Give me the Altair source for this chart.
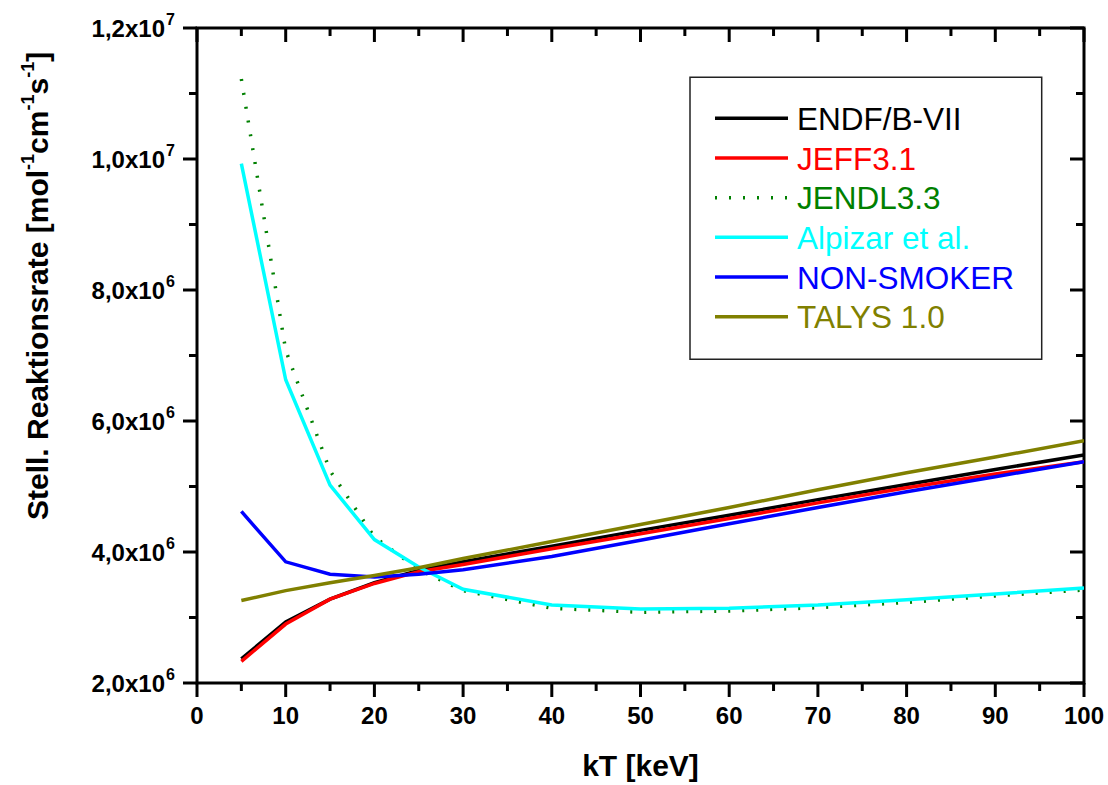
import altair as alt
import pandas as pd

# Stellar reaction rate vs. thermal energy kT
kT = [5, 10, 15, 20, 25, 30, 40, 50, 60, 70, 80, 90, 100]

endf = [2.37e6, 2.93e6, 3.28e6, 3.53e6, 3.72e6, 3.85e6, 4.09e6, 4.33e6, 4.56e6, 4.80e6, 5.03e6, 5.26e6, 5.48e6]
jeff = [2.33e6, 2.90e6, 3.28e6, 3.52e6, 3.70e6, 3.81e6, 4.05e6, 4.28e6, 4.51e6, 4.75e6, 4.98e6, 5.19e6, 5.38e6]
jendl = [11.22e6, 7.08e6, 5.24e6, 4.23e6, 3.73e6, 3.41e6, 3.14e6, 3.08e6, 3.10e6, 3.15e6, 3.23e6, 3.33e6, 3.42e6]
alpizar = [9.93e6, 6.63e6, 5.02e6, 4.19e6, 3.77e6, 3.43e6, 3.19e6, 3.13e6, 3.14e6, 3.19e6, 3.27e6, 3.36e6, 3.45e6]
nonsmoker = [4.62e6, 3.85e6, 3.66e6, 3.62e6, 3.66e6, 3.73e6, 3.93e6, 4.18e6, 4.43e6, 4.68e6, 4.92e6, 5.15e6, 5.38e6]
talys = [3.26e6, 3.41e6, 3.53e6, 3.64e6, 3.76e6, 3.90e6, 4.16e6, 4.42e6, 4.68e6, 4.95e6, 5.21e6, 5.45e6, 5.70e6]

series_names = ["ENDF/B-VII", "JEFF3.1", "JENDL3.3", "Alpizar et al.", "NON-SMOKER", "TALYS 1.0"]
series_values = [endf, jeff, jendl, alpizar, nonsmoker, talys]
series_colors = ["#000000", "#ff0000", "#008000", "#00ffff", "#0000ff", "#808000"]
series_dotted = [False, False, True, False, False, False]

x_major = list(range(0, 101, 10))
x_minor = list(range(5, 100, 10))
y_major = [2e6, 4e6, 6e6, 8e6, 1.0e7, 1.2e7]
y_minor = [3e6, 5e6, 7e6, 9e6, 1.1e7]
y_mant = ["2,0x10", "4,0x10", "6,0x10", "8,0x10", "1,0x10", "1,2x10"]
y_exp = ["6", "6", "6", "6", "7", "7"]

W, H = 887, 655
FONT = "Liberation Sans"
LW = 3
CURVE_W = 3.5

xs = alt.Scale(domain=[0, 100], nice=False, zero=False)
ys = alt.Scale(domain=[2e6, 1.2e7], nice=False, zero=False)

layers = []

# data curves, drawn in legend order
for name, vals, col, dotted in zip(series_names, series_values, series_colors, series_dotted):
    df = pd.DataFrame({"kT": kT, "rate": vals})
    kw = dict(color=col, strokeWidth=CURVE_W, clip=True)
    if dotted:
        kw["strokeDash"] = [2, 12]
    layers.append(
        alt.Chart(df).mark_line(**kw).encode(
            x=alt.X("kT:Q", scale=xs, axis=None),
            y=alt.Y("rate:Q", scale=ys, axis=None),
        )
    )

# tick marks: outward on bottom/left, inward on top/right
def xticks(vals, length):
    d = pd.DataFrame({"v": vals})
    bottom = alt.Chart(d).mark_rule(color="black", strokeWidth=LW).encode(
        x=alt.X("v:Q", scale=xs, axis=None), y=alt.value(H), y2=alt.value(H + length))
    top = alt.Chart(d).mark_rule(color="black", strokeWidth=LW).encode(
        x=alt.X("v:Q", scale=xs, axis=None), y=alt.value(0), y2=alt.value(length))
    return [bottom, top]

def yticks(vals, length):
    d = pd.DataFrame({"v": vals})
    left = alt.Chart(d).mark_rule(color="black", strokeWidth=LW).encode(
        y=alt.Y("v:Q", scale=ys, axis=None), x=alt.value(-length), x2=alt.value(0))
    right = alt.Chart(d).mark_rule(color="black", strokeWidth=LW).encode(
        y=alt.Y("v:Q", scale=ys, axis=None), x=alt.value(W - length), x2=alt.value(W))
    return [left, right]

layers += xticks(x_major, 14) + xticks(x_minor, 8) + yticks(y_major, 14) + yticks(y_minor, 8)

# tick labels
xlab = pd.DataFrame({"v": x_major, "t": [str(v) for v in x_major]})
layers.append(
    alt.Chart(xlab).mark_text(font=FONT, fontWeight="bold", fontSize=24, align="center",
                              baseline="alphabetic", color="black").encode(
        x=alt.X("v:Q", scale=xs, axis=None), y=alt.value(696), text="t:N")
)
ylab = pd.DataFrame({"v": y_major, "m": y_mant, "e": y_exp})
layers.append(
    alt.Chart(ylab).mark_text(font=FONT, fontWeight="bold", fontSize=24, align="right",
                              baseline="alphabetic", dy=9, color="black").encode(
        y=alt.Y("v:Q", scale=ys, axis=None), x=alt.value(-32), text="m:N")
)
layers.append(
    alt.Chart(ylab).mark_text(font=FONT, fontWeight="bold", fontSize=16, align="left",
                              baseline="alphabetic", dy=-3, color="black").encode(
        y=alt.Y("v:Q", scale=ys, axis=None), x=alt.value(-31), text="e:N")
)

# axis titles
layers.append(
    alt.Chart(pd.DataFrame({"t": ["kT [keV]"]})).mark_text(
        font=FONT, fontWeight="bold", fontSize=30, align="center", baseline="alphabetic",
        color="black").encode(x=alt.value(W / 2), y=alt.value(748), text="t:N")
)

# rotated y title with superscripts, laid out piece by piece (Arial bold metrics)
title_pieces = [("Stell. Reaktionsrate [mol", False), ("-1", True), ("cm", False), ("-1", True),
                ("s", False), ("-1", True), ("]", False)]
piece_em = {"Stell. Reaktionsrate [mol": 11.67, "-1": 0.889, "cm": 1.445, "s": 0.556, "]": 0.333}
pos = 492.0
for txt, sup in title_pieces:
    size = 18 if sup else 30
    layers.append(
        alt.Chart(pd.DataFrame({"t": [txt]})).mark_text(
            font=FONT, fontWeight="bold", fontSize=size, angle=270, align="left",
            baseline="alphabetic", color="black").encode(
            x=alt.value(-163 if sup else -149), y=alt.value(pos), text="t:N")
    )
    pos -= piece_em[txt] * size

# legend box
layers.append(
    alt.Chart(pd.DataFrame({"a": [0]})).mark_rect(fill="white", stroke="#222222", strokeWidth=1.5).encode(
        x=alt.value(493), x2=alt.value(844.7), y=alt.value(49.3), y2=alt.value(331.3))
)
leg = pd.DataFrame({"name": series_names, "color": series_colors, "dotted": series_dotted,
                    "row": list(range(len(series_names)))})
row_scale = alt.Scale(domain=[0, 5], range=[90.3, 288.7])
layers.append(
    alt.Chart(leg).transform_filter("!datum.dotted").mark_rule(strokeWidth=CURVE_W).encode(
        x=alt.value(518), x2=alt.value(591),
        y=alt.Y("row:Q", scale=row_scale, axis=None),
        color=alt.Color("color:N", scale=None))
)
layers.append(
    alt.Chart(leg).transform_filter("datum.dotted").mark_rule(strokeWidth=CURVE_W, strokeDash=[2, 12]).encode(
        x=alt.value(518), x2=alt.value(591),
        y=alt.Y("row:Q", scale=row_scale, axis=None),
        color=alt.Color("color:N", scale=None))
)
layers.append(
    alt.Chart(leg).mark_text(font=FONT, fontSize=31.5, align="left", baseline="alphabetic", dy=11.7).encode(
        x=alt.value(600),
        y=alt.Y("row:Q", scale=row_scale, axis=None),
        text="name:N",
        color=alt.Color("color:N", scale=None))
)

chart = (
    alt.layer(*layers)
    .resolve_scale(y="independent")
    .properties(
        width=W, height=H,
        autosize=alt.AutoSizeParams(type="none"),
        padding={"left": 197, "top": 28, "right": 24, "bottom": 102},
        background="white",
    )
    .configure_view(stroke="black", strokeWidth=LW)
)

chart.save("out.html", embed_options={"renderer": "svg", "actions": False})
